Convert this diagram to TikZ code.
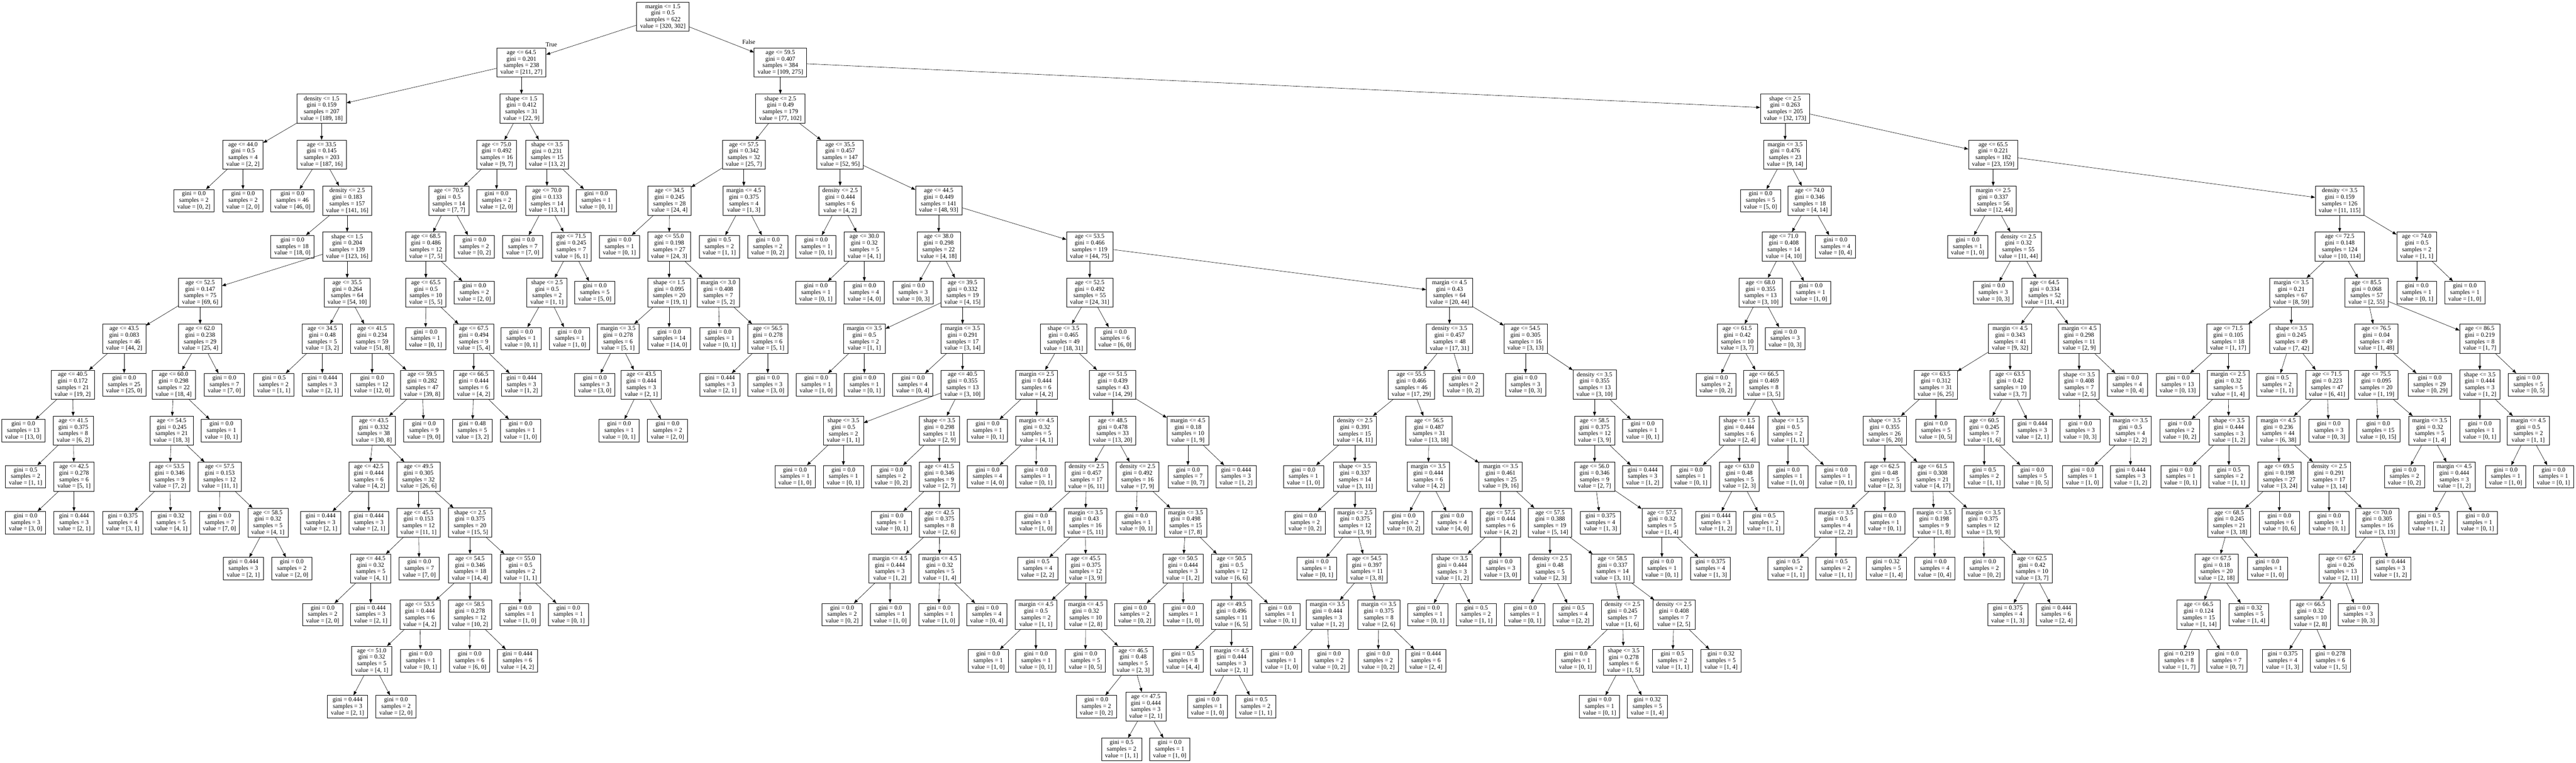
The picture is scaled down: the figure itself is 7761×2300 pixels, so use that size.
\documentclass[tikz,border=0pt]{standalone}
\usepackage{fontspec}
\setmainfont{Liberation Serif}
\usetikzlibrary{arrows.meta}

\begin{document}
\begin{tikzpicture}
[x=1pt,y=-1pt,
tnode/.style={shape=rectangle,draw=black,line width=1pt,align=center,inner xsep=10.5pt,inner ysep=6.5pt,font=\fontsize{18.5}{19.8}\selectfont},
decision/.style={tnode},
leafnode/.style={tnode},
elabel/.style={font=\fontsize{18.5}{19.8}\selectfont},
dedge/.style={-{Triangle[length=12pt,width=9pt]}, line width=.9pt, shorten >=.0pt, shorten <=.0pt}]
\useasboundingbox (0,0) rectangle (7761,2300);
%%
\node (n0) [decision] at (1997,50) {margin <= 1.5\\gini = 0.5\\samples = 622\\value = [320, 302]};
\node (ltrue) [elabel] at (1661,134) {True};
\node (lfalse) [elabel] at (2256,127) {False};
%%
\node (n1) [decision] at (1571,188.7) {age <= 64.5\\gini = 0.201\\samples = 238\\value = [211, 27]};
\node (n2) [decision] at (969,327.4) {density <= 1.5\\gini = 0.159\\samples = 207\\value = [189, 18]};
\node (n3) [decision] at (732,466.1) {age <= 44.0\\gini = 0.5\\samples = 4\\value = [2, 2]};
\node (n4) [leafnode] at (584,604.8) {gini = 0.0\\samples = 2\\value = [0, 2]};
\node (n5) [leafnode] at (732,604.8) {gini = 0.0\\samples = 2\\value = [2, 0]};
\node (n6) [decision] at (969,466.1) {age <= 33.5\\gini = 0.145\\samples = 203\\value = [187, 16]};
\node (n7) [leafnode] at (881,604.8) {gini = 0.0\\samples = 46\\value = [46, 0]};
\node (n8) [decision] at (1046,604.8) {density <= 2.5\\gini = 0.183\\samples = 157\\value = [141, 16]};
\node (n9) [leafnode] at (881,743.5) {gini = 0.0\\samples = 18\\value = [18, 0]};
\node (n10) [decision] at (1046,743.5) {shape <= 1.5\\gini = 0.204\\samples = 139\\value = [123, 16]};
\node (n11) [decision] at (603,882.2) {age <= 52.5\\gini = 0.147\\samples = 75\\value = [69, 6]};
\node (n12) [decision] at (374,1020.9) {age <= 43.5\\gini = 0.083\\samples = 46\\value = [44, 2]};
\node (n13) [decision] at (219,1159.6) {age <= 40.5\\gini = 0.172\\samples = 21\\value = [19, 2]};
\node (n14) [leafnode] at (70,1298.3) {gini = 0.0\\samples = 13\\value = [13, 0]};
\node (n15) [decision] at (221,1298.3) {age <= 41.5\\gini = 0.375\\samples = 8\\value = [6, 2]};
\node (n16) [leafnode] at (77,1437) {gini = 0.5\\samples = 2\\value = [1, 1]};
\node (n17) [decision] at (223,1437) {age <= 42.5\\gini = 0.278\\samples = 6\\value = [5, 1]};
\node (n18) [leafnode] at (77,1575.7) {gini = 0.0\\samples = 3\\value = [3, 0]};
\node (n19) [leafnode] at (223,1575.7) {gini = 0.444\\samples = 3\\value = [2, 1]};
\node (n20) [leafnode] at (374,1159.6) {gini = 0.0\\samples = 25\\value = [25, 0]};
\node (n21) [decision] at (603,1020.9) {age <= 62.0\\gini = 0.238\\samples = 29\\value = [25, 4]};
\node (n22) [decision] at (523,1159.6) {age <= 60.0\\gini = 0.298\\samples = 22\\value = [18, 4]};
\node (n23) [decision] at (517,1298.3) {age <= 54.5\\gini = 0.245\\samples = 21\\value = [18, 3]};
\node (n24) [decision] at (511,1437) {age <= 53.5\\gini = 0.346\\samples = 9\\value = [7, 2]};
\node (n25) [leafnode] at (370,1575.7) {gini = 0.375\\samples = 4\\value = [3, 1]};
\node (n26) [leafnode] at (515,1575.7) {gini = 0.32\\samples = 5\\value = [4, 1]};
\node (n27) [decision] at (662,1437) {age <= 57.5\\gini = 0.153\\samples = 12\\value = [11, 1]};
\node (n28) [leafnode] at (661,1575.7) {gini = 0.0\\samples = 7\\value = [7, 0]};
\node (n29) [decision] at (807,1575.7) {age <= 58.5\\gini = 0.32\\samples = 5\\value = [4, 1]};
\node (n30) [leafnode] at (733,1714.4) {gini = 0.444\\samples = 3\\value = [2, 1]};
\node (n31) [leafnode] at (879,1714.4) {gini = 0.0\\samples = 2\\value = [2, 0]};
\node (n32) [leafnode] at (667,1298.3) {gini = 0.0\\samples = 1\\value = [0, 1]};
\node (n33) [leafnode] at (676,1159.6) {gini = 0.0\\samples = 7\\value = [7, 0]};
\node (n34) [decision] at (1046,882.2) {age <= 35.5\\gini = 0.264\\samples = 64\\value = [54, 10]};
\node (n35) [decision] at (971,1020.9) {age <= 34.5\\gini = 0.48\\samples = 5\\value = [3, 2]};
\node (n36) [leafnode] at (825,1159.6) {gini = 0.5\\samples = 2\\value = [1, 1]};
\node (n37) [leafnode] at (971,1159.6) {gini = 0.444\\samples = 3\\value = [2, 1]};
\node (n38) [decision] at (1121,1020.9) {age <= 41.5\\gini = 0.234\\samples = 59\\value = [51, 8]};
\node (n39) [leafnode] at (1121,1159.6) {gini = 0.0\\samples = 12\\value = [12, 0]};
\node (n40) [decision] at (1272,1159.6) {age <= 59.5\\gini = 0.282\\samples = 47\\value = [39, 8]};
\node (n41) [decision] at (1126,1298.3) {age <= 43.5\\gini = 0.332\\samples = 38\\value = [30, 8]};
\node (n42) [decision] at (1111,1437) {age <= 42.5\\gini = 0.444\\samples = 6\\value = [4, 2]};
\node (n43) [leafnode] at (966,1575.7) {gini = 0.444\\samples = 3\\value = [2, 1]};
\node (n44) [leafnode] at (1111,1575.7) {gini = 0.444\\samples = 3\\value = [2, 1]};
\node (n45) [decision] at (1261,1437) {age <= 49.5\\gini = 0.305\\samples = 32\\value = [26, 6]};
\node (n46) [decision] at (1261,1575.7) {age <= 45.5\\gini = 0.153\\samples = 12\\value = [11, 1]};
\node (n47) [decision] at (1117,1714.4) {age <= 44.5\\gini = 0.32\\samples = 5\\value = [4, 1]};
\node (n48) [leafnode] at (972,1853.1) {gini = 0.0\\samples = 2\\value = [2, 0]};
\node (n49) [leafnode] at (1117,1853.1) {gini = 0.444\\samples = 3\\value = [2, 1]};
\node (n50) [leafnode] at (1263,1714.4) {gini = 0.0\\samples = 7\\value = [7, 0]};
\node (n51) [decision] at (1416,1575.7) {shape <= 2.5\\gini = 0.375\\samples = 20\\value = [15, 5]};
\node (n52) [decision] at (1416,1714.4) {age <= 54.5\\gini = 0.346\\samples = 18\\value = [14, 4]};
\node (n53) [decision] at (1265,1853.1) {age <= 53.5\\gini = 0.444\\samples = 6\\value = [4, 2]};
\node (n54) [decision] at (1120,1991.8) {age <= 51.0\\gini = 0.32\\samples = 5\\value = [4, 1]};
\node (n55) [leafnode] at (1047,2130.5) {gini = 0.444\\samples = 3\\value = [2, 1]};
\node (n56) [leafnode] at (1193,2130.5) {gini = 0.0\\samples = 2\\value = [2, 0]};
\node (n57) [leafnode] at (1267,1991.8) {gini = 0.0\\samples = 1\\value = [0, 1]};
\node (n58) [decision] at (1416,1853.1) {age <= 58.5\\gini = 0.278\\samples = 12\\value = [10, 2]};
\node (n59) [leafnode] at (1415,1991.8) {gini = 0.0\\samples = 6\\value = [6, 0]};
\node (n60) [leafnode] at (1559,1991.8) {gini = 0.444\\samples = 6\\value = [4, 2]};
\node (n61) [decision] at (1568,1714.4) {age <= 55.0\\gini = 0.5\\samples = 2\\value = [1, 1]};
\node (n62) [leafnode] at (1566,1853.1) {gini = 0.0\\samples = 1\\value = [1, 0]};
\node (n63) [leafnode] at (1712,1853.1) {gini = 0.0\\samples = 1\\value = [0, 1]};
\node (n64) [leafnode] at (1277,1298.3) {gini = 0.0\\samples = 9\\value = [9, 0]};
\node (n65) [decision] at (1571,327.4) {shape <= 1.5\\gini = 0.412\\samples = 31\\value = [22, 9]};
\node (n66) [decision] at (1496,466.1) {age <= 75.0\\gini = 0.492\\samples = 16\\value = [9, 7]};
\node (n67) [decision] at (1352,604.8) {age <= 70.5\\gini = 0.5\\samples = 14\\value = [7, 7]};
\node (n68) [decision] at (1283,743.5) {age <= 68.5\\gini = 0.486\\samples = 12\\value = [7, 5]};
\node (n69) [decision] at (1283,882.2) {age <= 65.5\\gini = 0.5\\samples = 10\\value = [5, 5]};
\node (n70) [leafnode] at (1282,1020.9) {gini = 0.0\\samples = 1\\value = [0, 1]};
\node (n71) [decision] at (1427,1020.9) {age <= 67.5\\gini = 0.494\\samples = 9\\value = [5, 4]};
\node (n72) [decision] at (1427,1159.6) {age <= 66.5\\gini = 0.444\\samples = 6\\value = [4, 2]};
\node (n73) [leafnode] at (1423,1298.3) {gini = 0.48\\samples = 5\\value = [3, 2]};
\node (n74) [leafnode] at (1568,1298.3) {gini = 0.0\\samples = 1\\value = [1, 0]};
\node (n75) [leafnode] at (1571,1159.6) {gini = 0.444\\samples = 3\\value = [1, 2]};
\node (n76) [leafnode] at (1429,882.2) {gini = 0.0\\samples = 2\\value = [2, 0]};
\node (n77) [leafnode] at (1429,743.5) {gini = 0.0\\samples = 2\\value = [0, 2]};
\node (n78) [leafnode] at (1496,604.8) {gini = 0.0\\samples = 2\\value = [2, 0]};
\node (n79) [decision] at (1648,466.1) {shape <= 3.5\\gini = 0.231\\samples = 15\\value = [13, 2]};
\node (n80) [decision] at (1648,604.8) {age <= 70.0\\gini = 0.133\\samples = 14\\value = [13, 1]};
\node (n81) [leafnode] at (1575,743.5) {gini = 0.0\\samples = 7\\value = [7, 0]};
\node (n82) [decision] at (1721,743.5) {age <= 71.5\\gini = 0.245\\samples = 7\\value = [6, 1]};
\node (n83) [decision] at (1648,882.2) {shape <= 2.5\\gini = 0.5\\samples = 2\\value = [1, 1]};
\node (n84) [leafnode] at (1570,1020.9) {gini = 0.0\\samples = 1\\value = [0, 1]};
\node (n85) [leafnode] at (1716,1020.9) {gini = 0.0\\samples = 1\\value = [1, 0]};
\node (n86) [leafnode] at (1792,882.2) {gini = 0.0\\samples = 5\\value = [5, 0]};
\node (n87) [leafnode] at (1796,604.8) {gini = 0.0\\samples = 1\\value = [0, 1]};
%%
\node (n88) [decision] at (2351,188.7) {age <= 59.5\\gini = 0.407\\samples = 384\\value = [109, 275]};
\node (n89) [decision] at (2351,327.4) {shape <= 2.5\\gini = 0.49\\samples = 179\\value = [77, 102]};
\node (n90) [decision] at (2241,466.1) {age <= 57.5\\gini = 0.342\\samples = 32\\value = [25, 7]};
\node (n91) [decision] at (2017,604.8) {age <= 34.5\\gini = 0.245\\samples = 28\\value = [24, 4]};
\node (n92) [leafnode] at (1866,743.5) {gini = 0.0\\samples = 1\\value = [0, 1]};
\node (n93) [decision] at (2016,743.5) {age <= 55.0\\gini = 0.198\\samples = 27\\value = [24, 3]};
\node (n94) [decision] at (2016,882.2) {shape <= 1.5\\gini = 0.095\\samples = 20\\value = [19, 1]};
\node (n95) [decision] at (1862,1020.9) {margin <= 3.5\\gini = 0.278\\samples = 6\\value = [5, 1]};
\node (n96) [leafnode] at (1792,1159.6) {gini = 0.0\\samples = 3\\value = [3, 0]};
\node (n97) [decision] at (1932,1159.6) {age <= 43.5\\gini = 0.444\\samples = 3\\value = [2, 1]};
\node (n98) [leafnode] at (1865,1298.3) {gini = 0.0\\samples = 1\\value = [0, 1]};
\node (n99) [leafnode] at (2011,1298.3) {gini = 0.0\\samples = 2\\value = [2, 0]};
\node (n100) [leafnode] at (2016,1020.9) {gini = 0.0\\samples = 14\\value = [14, 0]};
\node (n101) [decision] at (2164,882.2) {margin <= 3.0\\gini = 0.408\\samples = 7\\value = [5, 2]};
\node (n102) [leafnode] at (2168,1020.9) {gini = 0.0\\samples = 1\\value = [0, 1]};
\node (n103) [decision] at (2313,1020.9) {age <= 56.5\\gini = 0.278\\samples = 6\\value = [5, 1]};
\node (n104) [leafnode] at (2169,1159.6) {gini = 0.444\\samples = 3\\value = [2, 1]};
\node (n105) [leafnode] at (2313,1159.6) {gini = 0.0\\samples = 3\\value = [3, 0]};
\node (n106) [decision] at (2241,604.8) {margin <= 4.5\\gini = 0.375\\samples = 4\\value = [1, 3]};
\node (n107) [leafnode] at (2167,743.5) {gini = 0.5\\samples = 2\\value = [1, 1]};
\node (n108) [leafnode] at (2313,743.5) {gini = 0.0\\samples = 2\\value = [0, 2]};
\node (n109) [decision] at (2531,466.1) {age <= 35.5\\gini = 0.457\\samples = 147\\value = [52, 95]};
\node (n110) [decision] at (2531,604.8) {density <= 2.5\\gini = 0.444\\samples = 6\\value = [4, 2]};
\node (n111) [leafnode] at (2458,743.5) {gini = 0.0\\samples = 1\\value = [0, 1]};
\node (n112) [decision] at (2604,743.5) {age <= 30.0\\gini = 0.32\\samples = 5\\value = [4, 1]};
\node (n113) [leafnode] at (2458,882.2) {gini = 0.0\\samples = 1\\value = [0, 1]};
\node (n114) [leafnode] at (2604,882.2) {gini = 0.0\\samples = 4\\value = [4, 0]};
\node (n115) [decision] at (2828,604.8) {age <= 44.5\\gini = 0.449\\samples = 141\\value = [48, 93]};
\node (n116) [decision] at (2828,743.5) {age <= 38.0\\gini = 0.298\\samples = 22\\value = [4, 18]};
\node (n117) [leafnode] at (2751,882.2) {gini = 0.0\\samples = 3\\value = [0, 3]};
\node (n118) [decision] at (2900,882.2) {age <= 39.5\\gini = 0.332\\samples = 19\\value = [4, 15]};
\node (n119) [decision] at (2604,1020.9) {margin <= 3.5\\gini = 0.5\\samples = 2\\value = [1, 1]};
\node (n120) [leafnode] at (2459,1159.6) {gini = 0.0\\samples = 1\\value = [1, 0]};
\node (n121) [leafnode] at (2604,1159.6) {gini = 0.0\\samples = 1\\value = [0, 1]};
\node (n122) [decision] at (2900,1020.9) {margin <= 3.5\\gini = 0.291\\samples = 17\\value = [3, 14]};
\node (n123) [leafnode] at (2750,1159.6) {gini = 0.0\\samples = 4\\value = [0, 4]};
\node (n124) [decision] at (2900,1159.6) {age <= 40.5\\gini = 0.355\\samples = 13\\value = [3, 10]};
\node (n125) [decision] at (2541,1298.3) {shape <= 3.5\\gini = 0.5\\samples = 2\\value = [1, 1]};
\node (n126) [leafnode] at (2395,1437) {gini = 0.0\\samples = 1\\value = [1, 0]};
\node (n127) [leafnode] at (2541,1437) {gini = 0.0\\samples = 1\\value = [0, 1]};
\node (n128) [decision] at (2830,1298.3) {shape <= 3.5\\gini = 0.298\\samples = 11\\value = [2, 9]};
\node (n129) [leafnode] at (2685,1437) {gini = 0.0\\samples = 2\\value = [0, 2]};
\node (n130) [decision] at (2830,1437) {age <= 41.5\\gini = 0.346\\samples = 9\\value = [2, 7]};
\node (n131) [leafnode] at (2686,1575.7) {gini = 0.0\\samples = 1\\value = [0, 1]};
\node (n132) [decision] at (2830,1575.7) {age <= 42.5\\gini = 0.375\\samples = 8\\value = [2, 6]};
\node (n133) [decision] at (2681,1714.4) {margin <= 4.5\\gini = 0.444\\samples = 3\\value = [1, 2]};
\node (n134) [leafnode] at (2537,1853.1) {gini = 0.0\\samples = 2\\value = [0, 2]};
\node (n135) [leafnode] at (2682,1853.1) {gini = 0.0\\samples = 1\\value = [1, 0]};
\node (n136) [decision] at (2831,1714.4) {margin <= 4.5\\gini = 0.32\\samples = 5\\value = [1, 4]};
\node (n137) [leafnode] at (2828,1853.1) {gini = 0.0\\samples = 1\\value = [1, 0]};
\node (n138) [leafnode] at (2973,1853.1) {gini = 0.0\\samples = 4\\value = [0, 4]};
\node (n139) [decision] at (3283,743.5) {age <= 53.5\\gini = 0.466\\samples = 119\\value = [44, 75]};
\node (n140) [decision] at (3283,882.2) {age <= 52.5\\gini = 0.492\\samples = 55\\value = [24, 31]};
\node (n141) [decision] at (3204,1020.9) {shape <= 3.5\\gini = 0.465\\samples = 49\\value = [18, 31]};
\node (n142) [decision] at (3123,1159.6) {margin <= 2.5\\gini = 0.444\\samples = 6\\value = [4, 2]};
\node (n143) [leafnode] at (2975,1298.3) {gini = 0.0\\samples = 1\\value = [0, 1]};
\node (n144) [decision] at (3123,1298.3) {margin <= 4.5\\gini = 0.32\\samples = 5\\value = [4, 1]};
\node (n145) [leafnode] at (2975,1437) {gini = 0.0\\samples = 4\\value = [4, 0]};
\node (n146) [leafnode] at (3121,1437) {gini = 0.0\\samples = 1\\value = [0, 1]};
\node (n147) [decision] at (3352,1159.6) {age <= 51.5\\gini = 0.439\\samples = 43\\value = [14, 29]};
\node (n148) [decision] at (3352,1298.3) {age <= 48.5\\gini = 0.478\\samples = 33\\value = [13, 20]};
\node (n149) [decision] at (3273,1437) {density <= 2.5\\gini = 0.457\\samples = 17\\value = [6, 11]};
\node (n150) [leafnode] at (3121,1575.7) {gini = 0.0\\samples = 1\\value = [1, 0]};
\node (n151) [decision] at (3270,1575.7) {margin <= 3.5\\gini = 0.43\\samples = 16\\value = [5, 11]};
\node (n152) [leafnode] at (3126,1714.4) {gini = 0.5\\samples = 4\\value = [2, 2]};
\node (n153) [decision] at (3271,1714.4) {age <= 45.5\\gini = 0.375\\samples = 12\\value = [3, 9]};
\node (n154) [decision] at (3121,1853.1) {margin <= 4.5\\gini = 0.5\\samples = 2\\value = [1, 1]};
\node (n155) [leafnode] at (2977,1991.8) {gini = 0.0\\samples = 1\\value = [1, 0]};
\node (n156) [leafnode] at (3121,1991.8) {gini = 0.0\\samples = 1\\value = [0, 1]};
\node (n157) [decision] at (3271,1853.1) {margin <= 4.5\\gini = 0.32\\samples = 10\\value = [2, 8]};
\node (n158) [leafnode] at (3270,1991.8) {gini = 0.0\\samples = 5\\value = [0, 5]};
\node (n159) [decision] at (3414,1991.8) {age <= 46.5\\gini = 0.48\\samples = 5\\value = [2, 3]};
\node (n160) [leafnode] at (3303,2130.5) {gini = 0.0\\samples = 2\\value = [0, 2]};
\node (n161) [decision] at (3452,2130.5) {age <= 47.5\\gini = 0.444\\samples = 3\\value = [2, 1]};
\node (n162) [leafnode] at (3379,2259) {gini = 0.5\\samples = 2\\value = [1, 1]};
\node (n163) [leafnode] at (3524,2259) {gini = 0.0\\samples = 1\\value = [1, 0]};
\node (n164) [decision] at (3427,1437) {density <= 2.5\\gini = 0.492\\samples = 16\\value = [7, 9]};
\node (n165) [leafnode] at (3423,1575.7) {gini = 0.0\\samples = 1\\value = [0, 1]};
\node (n166) [decision] at (3572,1575.7) {margin <= 3.5\\gini = 0.498\\samples = 15\\value = [7, 8]};
\node (n167) [decision] at (3564,1714.4) {age <= 50.5\\gini = 0.444\\samples = 3\\value = [1, 2]};
\node (n168) [leafnode] at (3419,1853.1) {gini = 0.0\\samples = 2\\value = [0, 2]};
\node (n169) [leafnode] at (3565,1853.1) {gini = 0.0\\samples = 1\\value = [1, 0]};
\node (n170) [decision] at (3710,1714.4) {age <= 50.5\\gini = 0.5\\samples = 12\\value = [6, 6]};
\node (n171) [decision] at (3710,1853.1) {age <= 49.5\\gini = 0.496\\samples = 11\\value = [6, 5]};
\node (n172) [leafnode] at (3564,1991.8) {gini = 0.5\\samples = 8\\value = [4, 4]};
\node (n173) [decision] at (3710,1991.8) {margin <= 4.5\\gini = 0.444\\samples = 3\\value = [2, 1]};
\node (n174) [leafnode] at (3638,2130.5) {gini = 0.0\\samples = 1\\value = [1, 0]};
\node (n175) [leafnode] at (3783,2130.5) {gini = 0.5\\samples = 2\\value = [1, 1]};
\node (n176) [leafnode] at (3856,1853.1) {gini = 0.0\\samples = 1\\value = [0, 1]};
\node (n177) [decision] at (3579,1298.3) {margin <= 4.5\\gini = 0.18\\samples = 10\\value = [1, 9]};
\node (n178) [leafnode] at (3579,1437) {gini = 0.0\\samples = 7\\value = [0, 7]};
\node (n179) [leafnode] at (3724,1437) {gini = 0.444\\samples = 3\\value = [1, 2]};
\node (n180) [leafnode] at (3359,1020.9) {gini = 0.0\\samples = 6\\value = [6, 0]};
\node (n181) [decision] at (4367,882.2) {margin <= 4.5\\gini = 0.43\\samples = 64\\value = [20, 44]};
\node (n182) [decision] at (4367,1020.9) {density <= 3.5\\gini = 0.457\\samples = 48\\value = [17, 31]};
\node (n183) [decision] at (4252,1159.6) {age <= 55.5\\gini = 0.466\\samples = 46\\value = [17, 29]};
\node (n184) [decision] at (4082,1298.3) {density <= 2.5\\gini = 0.391\\samples = 15\\value = [4, 11]};
\node (n185) [leafnode] at (3927,1437) {gini = 0.0\\samples = 1\\value = [1, 0]};
\node (n186) [decision] at (4082,1437) {shape <= 3.5\\gini = 0.337\\samples = 14\\value = [3, 11]};
\node (n187) [leafnode] at (3932,1575.7) {gini = 0.0\\samples = 2\\value = [0, 2]};
\node (n188) [decision] at (4082,1575.7) {margin <= 2.5\\gini = 0.375\\samples = 12\\value = [3, 9]};
\node (n189) [leafnode] at (3967,1714.4) {gini = 0.0\\samples = 1\\value = [0, 1]};
\node (n190) [decision] at (4118,1714.4) {age <= 54.5\\gini = 0.397\\samples = 11\\value = [3, 8]};
\node (n191) [decision] at (3999,1853.1) {margin <= 3.5\\gini = 0.444\\samples = 3\\value = [1, 2]};
\node (n192) [leafnode] at (3861,1991.8) {gini = 0.0\\samples = 1\\value = [1, 0]};
\node (n193) [leafnode] at (4004,1991.8) {gini = 0.0\\samples = 2\\value = [0, 2]};
\node (n194) [decision] at (4154,1853.1) {margin <= 3.5\\gini = 0.375\\samples = 8\\value = [2, 6]};
\node (n195) [leafnode] at (4152,1991.8) {gini = 0.0\\samples = 2\\value = [0, 2]};
\node (n196) [leafnode] at (4296,1991.8) {gini = 0.444\\samples = 6\\value = [2, 4]};
\node (n197) [decision] at (4305,1298.3) {age <= 56.5\\gini = 0.487\\samples = 31\\value = [13, 18]};
\node (n198) [decision] at (4303,1437) {margin <= 3.5\\gini = 0.444\\samples = 6\\value = [4, 2]};
\node (n199) [leafnode] at (4229,1575.7) {gini = 0.0\\samples = 2\\value = [0, 2]};
\node (n200) [leafnode] at (4375,1575.7) {gini = 0.0\\samples = 4\\value = [4, 0]};
\node (n201) [decision] at (4521,1437) {margin <= 3.5\\gini = 0.461\\samples = 25\\value = [9, 16]};
\node (n202) [decision] at (4521,1575.7) {age <= 57.5\\gini = 0.444\\samples = 6\\value = [4, 2]};
\node (n203) [decision] at (4375,1714.4) {shape <= 3.5\\gini = 0.444\\samples = 3\\value = [1, 2]};
\node (n204) [leafnode] at (4302,1853.1) {gini = 0.0\\samples = 1\\value = [0, 1]};
\node (n205) [leafnode] at (4447,1853.1) {gini = 0.5\\samples = 2\\value = [1, 1]};
\node (n206) [leafnode] at (4521,1714.4) {gini = 0.0\\samples = 3\\value = [3, 0]};
\node (n207) [decision] at (4670,1575.7) {age <= 57.5\\gini = 0.388\\samples = 19\\value = [5, 14]};
\node (n208) [decision] at (4670,1714.4) {density <= 2.5\\gini = 0.48\\samples = 5\\value = [2, 3]};
\node (n209) [leafnode] at (4594,1853.1) {gini = 0.0\\samples = 1\\value = [0, 1]};
\node (n210) [leafnode] at (4739,1853.1) {gini = 0.5\\samples = 4\\value = [2, 2]};
\node (n211) [decision] at (4858,1714.4) {age <= 58.5\\gini = 0.337\\samples = 14\\value = [3, 11]};
\node (n212) [decision] at (4888,1853.1) {density <= 2.5\\gini = 0.245\\samples = 7\\value = [1, 6]};
\node (n213) [leafnode] at (4747,1991.8) {gini = 0.0\\samples = 1\\value = [0, 1]};
\node (n214) [decision] at (4892,1991.8) {shape <= 3.5\\gini = 0.278\\samples = 6\\value = [1, 5]};
\node (n215) [leafnode] at (4819,2130.5) {gini = 0.0\\samples = 1\\value = [0, 1]};
\node (n216) [leafnode] at (4963,2130.5) {gini = 0.32\\samples = 5\\value = [1, 4]};
\node (n217) [decision] at (5043,1853.1) {density <= 2.5\\gini = 0.408\\samples = 7\\value = [2, 5]};
\node (n218) [leafnode] at (5039,1991.8) {gini = 0.5\\samples = 2\\value = [1, 1]};
\node (n219) [leafnode] at (5185,1991.8) {gini = 0.32\\samples = 5\\value = [1, 4]};
\node (n220) [leafnode] at (4409,1159.6) {gini = 0.0\\samples = 2\\value = [0, 2]};
\node (n221) [decision] at (4596,1020.9) {age <= 54.5\\gini = 0.305\\samples = 16\\value = [3, 13]};
\node (n222) [leafnode] at (4596,1159.6) {gini = 0.0\\samples = 3\\value = [0, 3]};
\node (n223) [decision] at (4804,1159.6) {density <= 3.5\\gini = 0.355\\samples = 13\\value = [3, 10]};
\node (n224) [decision] at (4804,1298.3) {age <= 58.5\\gini = 0.375\\samples = 12\\value = [3, 9]};
\node (n225) [decision] at (4804,1437) {age <= 56.0\\gini = 0.346\\samples = 9\\value = [2, 7]};
\node (n226) [leafnode] at (4822,1575.7) {gini = 0.375\\samples = 4\\value = [1, 3]};
\node (n227) [decision] at (5007,1575.7) {age <= 57.5\\gini = 0.32\\samples = 5\\value = [1, 4]};
\node (n228) [leafnode] at (5007,1714.4) {gini = 0.0\\samples = 1\\value = [0, 1]};
\node (n229) [leafnode] at (5153,1714.4) {gini = 0.375\\samples = 4\\value = [1, 3]};
\node (n230) [leafnode] at (4949,1437) {gini = 0.444\\samples = 3\\value = [1, 2]};
\node (n231) [leafnode] at (4949,1298.3) {gini = 0.0\\samples = 1\\value = [0, 1]};
%%
\node (n232) [decision] at (5378,327.4) {shape <= 2.5\\gini = 0.263\\samples = 205\\value = [32, 173]};
\node (n233) [decision] at (5378,466.1) {margin <= 3.5\\gini = 0.476\\samples = 23\\value = [9, 14]};
\node (n234) [leafnode] at (5304,604.8) {gini = 0.0\\samples = 5\\value = [5, 0]};
\node (n235) [decision] at (5452,604.8) {age <= 74.0\\gini = 0.346\\samples = 18\\value = [4, 14]};
\node (n236) [decision] at (5374,743.5) {age <= 71.0\\gini = 0.408\\samples = 14\\value = [4, 10]};
\node (n237) [decision] at (5304,882.2) {age <= 68.0\\gini = 0.355\\samples = 13\\value = [3, 10]};
\node (n238) [decision] at (5234,1020.9) {age <= 61.5\\gini = 0.42\\samples = 10\\value = [3, 7]};
\node (n239) [leafnode] at (5170,1159.6) {gini = 0.0\\samples = 2\\value = [0, 2]};
\node (n240) [decision] at (5314,1159.6) {age <= 66.5\\gini = 0.469\\samples = 8\\value = [3, 5]};
\node (n241) [decision] at (5240,1298.3) {shape <= 1.5\\gini = 0.444\\samples = 6\\value = [2, 4]};
\node (n242) [leafnode] at (5094,1437) {gini = 0.0\\samples = 1\\value = [0, 1]};
\node (n243) [decision] at (5240,1437) {age <= 63.0\\gini = 0.48\\samples = 5\\value = [2, 3]};
\node (n244) [leafnode] at (5169,1575.7) {gini = 0.444\\samples = 3\\value = [1, 2]};
\node (n245) [leafnode] at (5314,1575.7) {gini = 0.5\\samples = 2\\value = [1, 1]};
\node (n246) [decision] at (5386,1298.3) {shape <= 1.5\\gini = 0.5\\samples = 2\\value = [1, 1]};
\node (n247) [leafnode] at (5386,1437) {gini = 0.0\\samples = 1\\value = [1, 0]};
\node (n248) [leafnode] at (5531,1437) {gini = 0.0\\samples = 1\\value = [0, 1]};
\node (n249) [leafnode] at (5378,1020.9) {gini = 0.0\\samples = 3\\value = [0, 3]};
\node (n250) [leafnode] at (5455,882.2) {gini = 0.0\\samples = 1\\value = [1, 0]};
\node (n251) [leafnode] at (5530,743.5) {gini = 0.0\\samples = 4\\value = [0, 4]};
\node (n252) [decision] at (6005,466.1) {age <= 65.5\\gini = 0.221\\samples = 182\\value = [23, 159]};
\node (n253) [decision] at (6005,604.8) {margin <= 2.5\\gini = 0.337\\samples = 56\\value = [12, 44]};
\node (n254) [leafnode] at (5928,743.5) {gini = 0.0\\samples = 1\\value = [1, 0]};
\node (n255) [decision] at (6081,743.5) {density <= 2.5\\gini = 0.32\\samples = 55\\value = [11, 44]};
\node (n256) [leafnode] at (6005,882.2) {gini = 0.0\\samples = 3\\value = [0, 3]};
\node (n257) [decision] at (6160,882.2) {age <= 64.5\\gini = 0.334\\samples = 52\\value = [11, 41]};
\node (n258) [decision] at (6056,1020.9) {margin <= 4.5\\gini = 0.343\\samples = 41\\value = [9, 32]};
\node (n259) [decision] at (5832,1159.6) {age <= 63.5\\gini = 0.312\\samples = 31\\value = [6, 25]};
\node (n260) [decision] at (5678,1298.3) {shape <= 3.5\\gini = 0.355\\samples = 26\\value = [6, 20]};
\node (n261) [decision] at (5678,1437) {age <= 62.5\\gini = 0.48\\samples = 5\\value = [2, 3]};
\node (n262) [decision] at (5531,1575.7) {margin <= 3.5\\gini = 0.5\\samples = 4\\value = [2, 2]};
\node (n263) [leafnode] at (5387,1714.4) {gini = 0.5\\samples = 2\\value = [1, 1]};
\node (n264) [leafnode] at (5531,1714.4) {gini = 0.5\\samples = 2\\value = [1, 1]};
\node (n265) [leafnode] at (5678,1575.7) {gini = 0.0\\samples = 1\\value = [0, 1]};
\node (n266) [decision] at (5822,1437) {age <= 61.5\\gini = 0.308\\samples = 21\\value = [4, 17]};
\node (n267) [decision] at (5827,1575.7) {margin <= 3.5\\gini = 0.198\\samples = 9\\value = [1, 8]};
\node (n268) [leafnode] at (5683,1714.4) {gini = 0.32\\samples = 5\\value = [1, 4]};
\node (n269) [leafnode] at (5829,1714.4) {gini = 0.0\\samples = 4\\value = [0, 4]};
\node (n270) [decision] at (5975,1575.7) {margin <= 3.5\\gini = 0.375\\samples = 12\\value = [3, 9]};
\node (n271) [leafnode] at (5978,1714.4) {gini = 0.0\\samples = 2\\value = [0, 2]};
\node (n272) [decision] at (6122,1714.4) {age <= 62.5\\gini = 0.42\\samples = 10\\value = [3, 7]};
\node (n273) [leafnode] at (6049,1853.1) {gini = 0.375\\samples = 4\\value = [1, 3]};
\node (n274) [leafnode] at (6195,1853.1) {gini = 0.444\\samples = 6\\value = [2, 4]};
\node (n275) [leafnode] at (5832,1298.3) {gini = 0.0\\samples = 5\\value = [0, 5]};
\node (n276) [decision] at (6056,1159.6) {age <= 63.5\\gini = 0.42\\samples = 10\\value = [3, 7]};
\node (n277) [decision] at (5978,1298.3) {age <= 60.5\\gini = 0.245\\samples = 7\\value = [1, 6]};
\node (n278) [leafnode] at (5978,1437) {gini = 0.5\\samples = 2\\value = [1, 1]};
\node (n279) [leafnode] at (6123,1437) {gini = 0.0\\samples = 5\\value = [0, 5]};
\node (n280) [leafnode] at (6123,1298.3) {gini = 0.444\\samples = 3\\value = [2, 1]};
\node (n281) [decision] at (6264,1020.9) {margin <= 4.5\\gini = 0.298\\samples = 11\\value = [2, 9]};
\node (n282) [decision] at (6264,1159.6) {shape <= 3.5\\gini = 0.408\\samples = 7\\value = [2, 5]};
\node (n283) [leafnode] at (6267,1298.3) {gini = 0.0\\samples = 3\\value = [0, 3]};
\node (n284) [decision] at (6418,1298.3) {margin <= 3.5\\gini = 0.5\\samples = 4\\value = [2, 2]};
\node (n285) [leafnode] at (6274,1437) {gini = 0.0\\samples = 1\\value = [1, 0]};
\node (n286) [leafnode] at (6419,1437) {gini = 0.444\\samples = 3\\value = [1, 2]};
\node (n287) [leafnode] at (6409,1159.6) {gini = 0.0\\samples = 4\\value = [0, 4]};
\node (n288) [decision] at (7049,604.8) {density <= 3.5\\gini = 0.159\\samples = 126\\value = [11, 115]};
\node (n289) [decision] at (7049,743.5) {age <= 72.5\\gini = 0.148\\samples = 124\\value = [10, 114]};
\node (n290) [decision] at (6903,882.2) {margin <= 3.5\\gini = 0.21\\samples = 67\\value = [8, 59]};
\node (n291) [decision] at (6713,1020.9) {age <= 71.5\\gini = 0.105\\samples = 18\\value = [1, 17]};
\node (n292) [leafnode] at (6561,1159.6) {gini = 0.0\\samples = 13\\value = [0, 13]};
\node (n293) [decision] at (6713,1159.6) {margin <= 2.5\\gini = 0.32\\samples = 5\\value = [1, 4]};
\node (n294) [leafnode] at (6567,1298.3) {gini = 0.0\\samples = 2\\value = [0, 2]};
\node (n295) [decision] at (6715,1298.3) {shape <= 3.5\\gini = 0.444\\samples = 3\\value = [1, 2]};
\node (n296) [leafnode] at (6570,1437) {gini = 0.0\\samples = 1\\value = [0, 1]};
\node (n297) [leafnode] at (6715,1437) {gini = 0.5\\samples = 2\\value = [1, 1]};
\node (n298) [decision] at (6903,1020.9) {shape <= 3.5\\gini = 0.245\\samples = 49\\value = [7, 42]};
\node (n299) [leafnode] at (6860,1159.6) {gini = 0.5\\samples = 2\\value = [1, 1]};
\node (n300) [decision] at (7011,1159.6) {age <= 71.5\\gini = 0.223\\samples = 47\\value = [6, 41]};
\node (n301) [decision] at (6864,1298.3) {margin <= 4.5\\gini = 0.236\\samples = 44\\value = [6, 38]};
\node (n302) [decision] at (6867,1437) {age <= 69.5\\gini = 0.198\\samples = 27\\value = [3, 24]};
\node (n303) [decision] at (6716,1575.7) {age <= 68.5\\gini = 0.245\\samples = 21\\value = [3, 18]};
\node (n304) [decision] at (6678,1714.4) {age <= 67.5\\gini = 0.18\\samples = 20\\value = [2, 18]};
\node (n305) [decision] at (6624,1853.1) {age <= 66.5\\gini = 0.124\\samples = 15\\value = [1, 14]};
\node (n306) [leafnode] at (6565,1991.8) {gini = 0.219\\samples = 8\\value = [1, 7]};
\node (n307) [leafnode] at (6709,1991.8) {gini = 0.0\\samples = 7\\value = [0, 7]};
\node (n308) [leafnode] at (6775,1853.1) {gini = 0.32\\samples = 5\\value = [1, 4]};
\node (n309) [leafnode] at (6831,1714.4) {gini = 0.0\\samples = 1\\value = [1, 0]};
\node (n310) [leafnode] at (6867,1575.7) {gini = 0.0\\samples = 6\\value = [0, 6]};
\node (n311) [decision] at (7017,1437) {density <= 2.5\\gini = 0.291\\samples = 17\\value = [3, 14]};
\node (n312) [leafnode] at (7017,1575.7) {gini = 0.0\\samples = 1\\value = [0, 1]};
\node (n313) [decision] at (7162,1575.7) {age <= 70.0\\gini = 0.305\\samples = 16\\value = [3, 13]};
\node (n314) [decision] at (7052,1714.4) {age <= 67.5\\gini = 0.26\\samples = 13\\value = [2, 11]};
\node (n315) [decision] at (6961,1853.1) {age <= 66.5\\gini = 0.32\\samples = 10\\value = [2, 8]};
\node (n316) [leafnode] at (6877,1991.8) {gini = 0.375\\samples = 4\\value = [1, 3]};
\node (n317) [leafnode] at (7021,1991.8) {gini = 0.278\\samples = 6\\value = [1, 5]};
\node (n318) [leafnode] at (7105,1853.1) {gini = 0.0\\samples = 3\\value = [0, 3]};
\node (n319) [leafnode] at (7202,1714.4) {gini = 0.444\\samples = 3\\value = [1, 2]};
\node (n320) [leafnode] at (7016,1298.3) {gini = 0.0\\samples = 3\\value = [0, 3]};
\node (n321) [decision] at (7130,882.2) {age <= 85.5\\gini = 0.068\\samples = 57\\value = [2, 55]};
\node (n322) [decision] at (7159,1020.9) {age <= 76.5\\gini = 0.04\\samples = 49\\value = [1, 48]};
\node (n323) [decision] at (7159,1159.6) {age <= 75.5\\gini = 0.095\\samples = 20\\value = [1, 19]};
\node (n324) [leafnode] at (7165,1298.3) {gini = 0.0\\samples = 15\\value = [0, 15]};
\node (n325) [decision] at (7320,1298.3) {margin <= 3.5\\gini = 0.32\\samples = 5\\value = [1, 4]};
\node (n326) [leafnode] at (7244,1437) {gini = 0.0\\samples = 2\\value = [0, 2]};
\node (n327) [decision] at (7394,1437) {margin <= 4.5\\gini = 0.444\\samples = 3\\value = [1, 2]};
\node (n328) [leafnode] at (7317,1575.7) {gini = 0.5\\samples = 2\\value = [1, 1]};
\node (n329) [leafnode] at (7464,1575.7) {gini = 0.0\\samples = 1\\value = [0, 1]};
\node (n330) [leafnode] at (7320,1159.6) {gini = 0.0\\samples = 29\\value = [0, 29]};
\node (n331) [decision] at (7471,1020.9) {age <= 86.5\\gini = 0.219\\samples = 8\\value = [1, 7]};
\node (n332) [decision] at (7471,1159.6) {shape <= 3.5\\gini = 0.444\\samples = 3\\value = [1, 2]};
\node (n333) [leafnode] at (7471,1298.3) {gini = 0.0\\samples = 1\\value = [0, 1]};
\node (n334) [decision] at (7617,1298.3) {margin <= 4.5\\gini = 0.5\\samples = 2\\value = [1, 1]};
\node (n335) [leafnode] at (7549,1437) {gini = 0.0\\samples = 1\\value = [1, 0]};
\node (n336) [leafnode] at (7693,1437) {gini = 0.0\\samples = 1\\value = [0, 1]};
\node (n337) [leafnode] at (7617,1159.6) {gini = 0.0\\samples = 5\\value = [0, 5]};
\node (n338) [decision] at (7281,743.5) {age <= 74.0\\gini = 0.5\\samples = 2\\value = [1, 1]};
\node (n339) [leafnode] at (7281,882.2) {gini = 0.0\\samples = 1\\value = [0, 1]};
\node (n340) [leafnode] at (7426,882.2) {gini = 0.0\\samples = 1\\value = [1, 0]};
%%
\draw[dedge] (n0) edge (n1) edge (n88);
\draw[dedge] (n1) edge (n2) edge (n65);
\draw[dedge] (n2) edge (n3) edge (n6);
\draw[dedge] (n3) edge (n4) edge (n5);
\draw[dedge] (n6) edge (n7) edge (n8);
\draw[dedge] (n8) edge (n9) edge (n10);
\draw[dedge] (n10) edge (n11) edge (n34);
\draw[dedge] (n11) edge (n12) edge (n21);
\draw[dedge] (n12) edge (n13) edge (n20);
\draw[dedge] (n13) edge (n14) edge (n15);
\draw[dedge] (n15) edge (n16) edge (n17);
\draw[dedge] (n17) edge (n18) edge (n19);
\draw[dedge] (n21) edge (n22) edge (n33);
\draw[dedge] (n22) edge (n23) edge (n32);
\draw[dedge] (n23) edge (n24) edge (n27);
\draw[dedge] (n24) edge (n25) edge (n26);
\draw[dedge] (n27) edge (n28) edge (n29);
\draw[dedge] (n29) edge (n30) edge (n31);
\draw[dedge] (n34) edge (n35) edge (n38);
\draw[dedge] (n35) edge (n36) edge (n37);
\draw[dedge] (n38) edge (n39) edge (n40);
\draw[dedge] (n40) edge (n41) edge (n64);
\draw[dedge] (n41) edge (n42) edge (n45);
\draw[dedge] (n42) edge (n43) edge (n44);
\draw[dedge] (n45) edge (n46) edge (n51);
\draw[dedge] (n46) edge (n47) edge (n50);
\draw[dedge] (n47) edge (n48) edge (n49);
\draw[dedge] (n51) edge (n52) edge (n61);
\draw[dedge] (n52) edge (n53) edge (n58);
\draw[dedge] (n53) edge (n54) edge (n57);
\draw[dedge] (n54) edge (n55) edge (n56);
\draw[dedge] (n58) edge (n59) edge (n60);
\draw[dedge] (n61) edge (n62) edge (n63);
\draw[dedge] (n65) edge (n66) edge (n79);
\draw[dedge] (n66) edge (n67) edge (n78);
\draw[dedge] (n67) edge (n68) edge (n77);
\draw[dedge] (n68) edge (n69) edge (n76);
\draw[dedge] (n69) edge (n70) edge (n71);
\draw[dedge] (n71) edge (n72) edge (n75);
\draw[dedge] (n72) edge (n73) edge (n74);
\draw[dedge] (n79) edge (n80) edge (n87);
\draw[dedge] (n80) edge (n81) edge (n82);
\draw[dedge] (n82) edge (n83) edge (n86);
\draw[dedge] (n83) edge (n84) edge (n85);
%%
\draw[dedge] (n88) edge (n89) edge (n232);
\draw[dedge] (n89) edge (n90) edge (n109);
\draw[dedge] (n90) edge (n91) edge (n106);
\draw[dedge] (n91) edge (n92) edge (n93);
\draw[dedge] (n93) edge (n94) edge (n101);
\draw[dedge] (n94) edge (n95) edge (n100);
\draw[dedge] (n95) edge (n96) edge (n97);
\draw[dedge] (n97) edge (n98) edge (n99);
\draw[dedge] (n101) edge (n102) edge (n103);
\draw[dedge] (n103) edge (n104) edge (n105);
\draw[dedge] (n106) edge (n107) edge (n108);
\draw[dedge] (n109) edge (n110) edge (n115);
\draw[dedge] (n110) edge (n111) edge (n112);
\draw[dedge] (n112) edge (n113) edge (n114);
\draw[dedge] (n115) edge (n116) edge (n139);
\draw[dedge] (n116) edge (n117) edge (n118);
\draw[dedge] (n118) edge (n119) edge (n122);
\draw[dedge] (n119) edge (n120) edge (n121);
\draw[dedge] (n122) edge (n123) edge (n124);
\draw[dedge] (n124) edge (n125) edge (n128);
\draw[dedge] (n125) edge (n126) edge (n127);
\draw[dedge] (n128) edge (n129) edge (n130);
\draw[dedge] (n130) edge (n131) edge (n132);
\draw[dedge] (n132) edge (n133) edge (n136);
\draw[dedge] (n133) edge (n134) edge (n135);
\draw[dedge] (n136) edge (n137) edge (n138);
\draw[dedge] (n139) edge (n140) edge (n181);
\draw[dedge] (n140) edge (n141) edge (n180);
\draw[dedge] (n141) edge (n142) edge (n147);
\draw[dedge] (n142) edge (n143) edge (n144);
\draw[dedge] (n144) edge (n145) edge (n146);
\draw[dedge] (n147) edge (n148) edge (n177);
\draw[dedge] (n148) edge (n149) edge (n164);
\draw[dedge] (n149) edge (n150) edge (n151);
\draw[dedge] (n151) edge (n152) edge (n153);
\draw[dedge] (n153) edge (n154) edge (n157);
\draw[dedge] (n154) edge (n155) edge (n156);
\draw[dedge] (n157) edge (n158) edge (n159);
\draw[dedge] (n159) edge (n160) edge (n161);
\draw[dedge] (n161) edge (n162) edge (n163);
\draw[dedge] (n164) edge (n165) edge (n166);
\draw[dedge] (n166) edge (n167) edge (n170);
\draw[dedge] (n167) edge (n168) edge (n169);
\draw[dedge] (n170) edge (n171) edge (n176);
\draw[dedge] (n171) edge (n172) edge (n173);
\draw[dedge] (n173) edge (n174) edge (n175);
\draw[dedge] (n177) edge (n178) edge (n179);
\draw[dedge] (n181) edge (n182) edge (n221);
\draw[dedge] (n182) edge (n183) edge (n220);
\draw[dedge] (n183) edge (n184) edge (n197);
\draw[dedge] (n184) edge (n185) edge (n186);
\draw[dedge] (n186) edge (n187) edge (n188);
\draw[dedge] (n188) edge (n189) edge (n190);
\draw[dedge] (n190) edge (n191) edge (n194);
\draw[dedge] (n191) edge (n192) edge (n193);
\draw[dedge] (n194) edge (n195) edge (n196);
\draw[dedge] (n197) edge (n198) edge (n201);
\draw[dedge] (n198) edge (n199) edge (n200);
\draw[dedge] (n201) edge (n202) edge (n207);
\draw[dedge] (n202) edge (n203) edge (n206);
\draw[dedge] (n203) edge (n204) edge (n205);
\draw[dedge] (n207) edge (n208) edge (n211);
\draw[dedge] (n208) edge (n209) edge (n210);
\draw[dedge] (n211) edge (n212) edge (n217);
\draw[dedge] (n212) edge (n213) edge (n214);
\draw[dedge] (n214) edge (n215) edge (n216);
\draw[dedge] (n217) edge (n218) edge (n219);
\draw[dedge] (n221) edge (n222) edge (n223);
\draw[dedge] (n223) edge (n224) edge (n231);
\draw[dedge] (n224) edge (n225) edge (n230);
\draw[dedge] (n225) edge (n226) edge (n227);
\draw[dedge] (n227) edge (n228) edge (n229);
%%
\draw[dedge] (n232) edge (n233) edge (n252);
\draw[dedge] (n233) edge (n234) edge (n235);
\draw[dedge] (n235) edge (n236) edge (n251);
\draw[dedge] (n236) edge (n237) edge (n250);
\draw[dedge] (n237) edge (n238) edge (n249);
\draw[dedge] (n238) edge (n239) edge (n240);
\draw[dedge] (n240) edge (n241) edge (n246);
\draw[dedge] (n241) edge (n242) edge (n243);
\draw[dedge] (n243) edge (n244) edge (n245);
\draw[dedge] (n246) edge (n247) edge (n248);
\draw[dedge] (n252) edge (n253) edge (n288);
\draw[dedge] (n253) edge (n254) edge (n255);
\draw[dedge] (n255) edge (n256) edge (n257);
\draw[dedge] (n257) edge (n258) edge (n281);
\draw[dedge] (n258) edge (n259) edge (n276);
\draw[dedge] (n259) edge (n260) edge (n275);
\draw[dedge] (n260) edge (n261) edge (n266);
\draw[dedge] (n261) edge (n262) edge (n265);
\draw[dedge] (n262) edge (n263) edge (n264);
\draw[dedge] (n266) edge (n267) edge (n270);
\draw[dedge] (n267) edge (n268) edge (n269);
\draw[dedge] (n270) edge (n271) edge (n272);
\draw[dedge] (n272) edge (n273) edge (n274);
\draw[dedge] (n276) edge (n277) edge (n280);
\draw[dedge] (n277) edge (n278) edge (n279);
\draw[dedge] (n281) edge (n282) edge (n287);
\draw[dedge] (n282) edge (n283) edge (n284);
\draw[dedge] (n284) edge (n285) edge (n286);
\draw[dedge] (n288) edge (n289) edge (n338);
\draw[dedge] (n289) edge (n290) edge (n321);
\draw[dedge] (n290) edge (n291) edge (n298);
\draw[dedge] (n291) edge (n292) edge (n293);
\draw[dedge] (n293) edge (n294) edge (n295);
\draw[dedge] (n295) edge (n296) edge (n297);
\draw[dedge] (n298) edge (n299) edge (n300);
\draw[dedge] (n300) edge (n301) edge (n320);
\draw[dedge] (n301) edge (n302) edge (n311);
\draw[dedge] (n302) edge (n303) edge (n310);
\draw[dedge] (n303) edge (n304) edge (n309);
\draw[dedge] (n304) edge (n305) edge (n308);
\draw[dedge] (n305) edge (n306) edge (n307);
\draw[dedge] (n311) edge (n312) edge (n313);
\draw[dedge] (n313) edge (n314) edge (n319);
\draw[dedge] (n314) edge (n315) edge (n318);
\draw[dedge] (n315) edge (n316) edge (n317);
\draw[dedge] (n321) edge (n322) edge (n331);
\draw[dedge] (n322) edge (n323) edge (n330);
\draw[dedge] (n323) edge (n324) edge (n325);
\draw[dedge] (n325) edge (n326) edge (n327);
\draw[dedge] (n327) edge (n328) edge (n329);
\draw[dedge] (n331) edge (n332) edge (n337);
\draw[dedge] (n332) edge (n333) edge (n334);
\draw[dedge] (n334) edge (n335) edge (n336);
\draw[dedge] (n338) edge (n339) edge (n340);
\end{tikzpicture}
\end{document}
